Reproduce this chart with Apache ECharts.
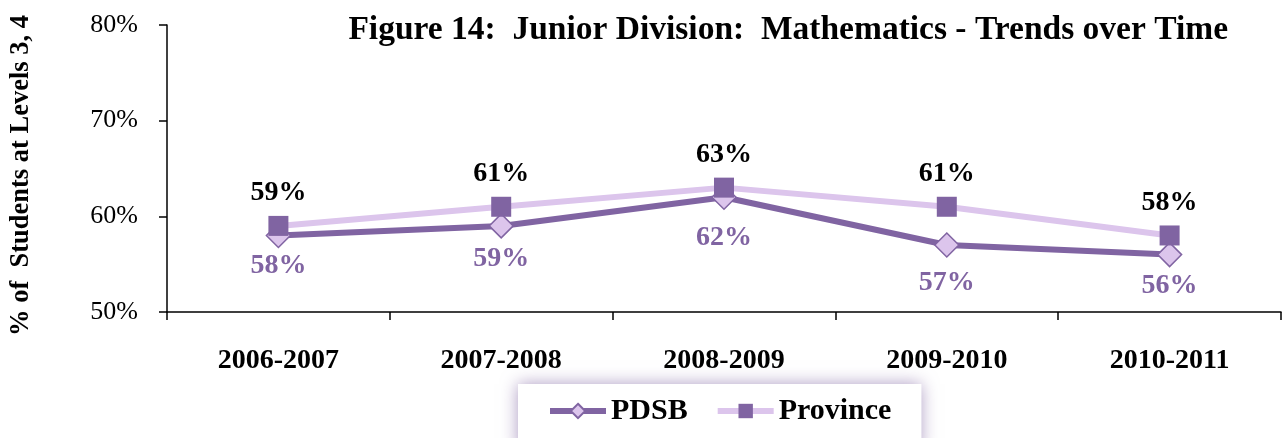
<!DOCTYPE html>
<html><head><meta charset="utf-8">
<script src="https://cdn.jsdelivr.net/npm/echarts@6/dist/echarts.min.js"></script>
<style>html,body{margin:0;padding:0;background:#fff}#c{width:1284px;height:438px}</style>
</head><body><div id="c"></div>
<script>
const categories = ['2006-2007','2007-2008','2008-2009','2009-2010','2010-2011'];
const pdsb = [58, 59, 62, 57, 56];
const province = [59, 61, 63, 61, 58];
const yTicks = [50, 60, 70, 80];

const F = 'Liberation Serif';
const dark = '#8064A2';
const light = '#DCC5EC';
const pdsbLabelDist = [4, 6, 14, 11, 4];
const chart = echarts.init(document.getElementById('c'), null, {renderer:'canvas'});
chart.setOption({
  animation:false,
  backgroundColor:'#fff',
  title:{text:'Figure 14:  Junior Division:  Mathematics - Trends over Time', right:51, top:8,
    textStyle:{fontFamily:F, fontWeight:'bold', fontSize:33.5, color:'#000'}},
  grid:{left:165, right:3, top:25, bottom:126, containLabel:false},
  legend:{left:518, top:384, padding:[12,30,24,29], itemGap:27,
    backgroundColor:'#fff', shadowBlur:16, shadowColor:'rgba(128,100,162,0.65)', shadowOffsetX:0, shadowOffsetY:0,
    itemWidth:56, itemHeight:18, lineStyle:{width:6},
    textStyle:{fontFamily:F, fontWeight:'bold', fontSize:30, color:'#000'},
    data:['PDSB','Province']},
  xAxis:{type:'category', data:categories, boundaryGap:true,
    axisLine:{lineStyle:{color:'#000', width:1.5}},
    axisTick:{show:true, length:8, inside:false, lineStyle:{color:'#000', width:1.5}},
    axisLabel:{margin:35, fontFamily:F, fontWeight:'bold', fontSize:28, color:'#000'}},
  yAxis:{type:'value', min:yTicks[0], max:yTicks[yTicks.length-1], interval:10,
    name:'% of  Students at Levels 3, 4', nameLocation:'middle', nameGap:132, nameRotate:90,
    nameTextStyle:{fontFamily:F, fontWeight:'bold', fontSize:26.5, color:'#000', padding:[0,14,0,0]},
    axisLine:{show:true, lineStyle:{color:'#000', width:1.5}},
    axisTick:{show:true, length:8, lineStyle:{color:'#000', width:1.5}},
    splitLine:{show:false},
    axisLabel:{margin:29, fontFamily:F, fontSize:26, color:'#000', formatter:v=>v+'%'}},
  series:[
    {name:'PDSB', type:'line', symbol:'diamond', symbolSize:24,
      data:pdsb.map((v,i)=>({value:v, label:{distance:pdsbLabelDist[i]}})),
      lineStyle:{color:dark, width:6}, itemStyle:{color:light, borderColor:dark, borderWidth:1.5},
      label:{show:true, position:'bottom', formatter:p=>p.value+'%',
        fontFamily:F, fontWeight:'bold', fontSize:28, color:dark}, z:2},
    {name:'Province', type:'line', data:province, symbol:'rect', symbolSize:20,
      lineStyle:{color:light, width:6}, itemStyle:{color:dark, borderColor:dark, borderWidth:0},
      label:{show:true, position:'top', distance:9, formatter:p=>p.value+'%',
        fontFamily:F, fontWeight:'bold', fontSize:28, color:'#000'}, z:3}
  ]
});
</script></body></html>
